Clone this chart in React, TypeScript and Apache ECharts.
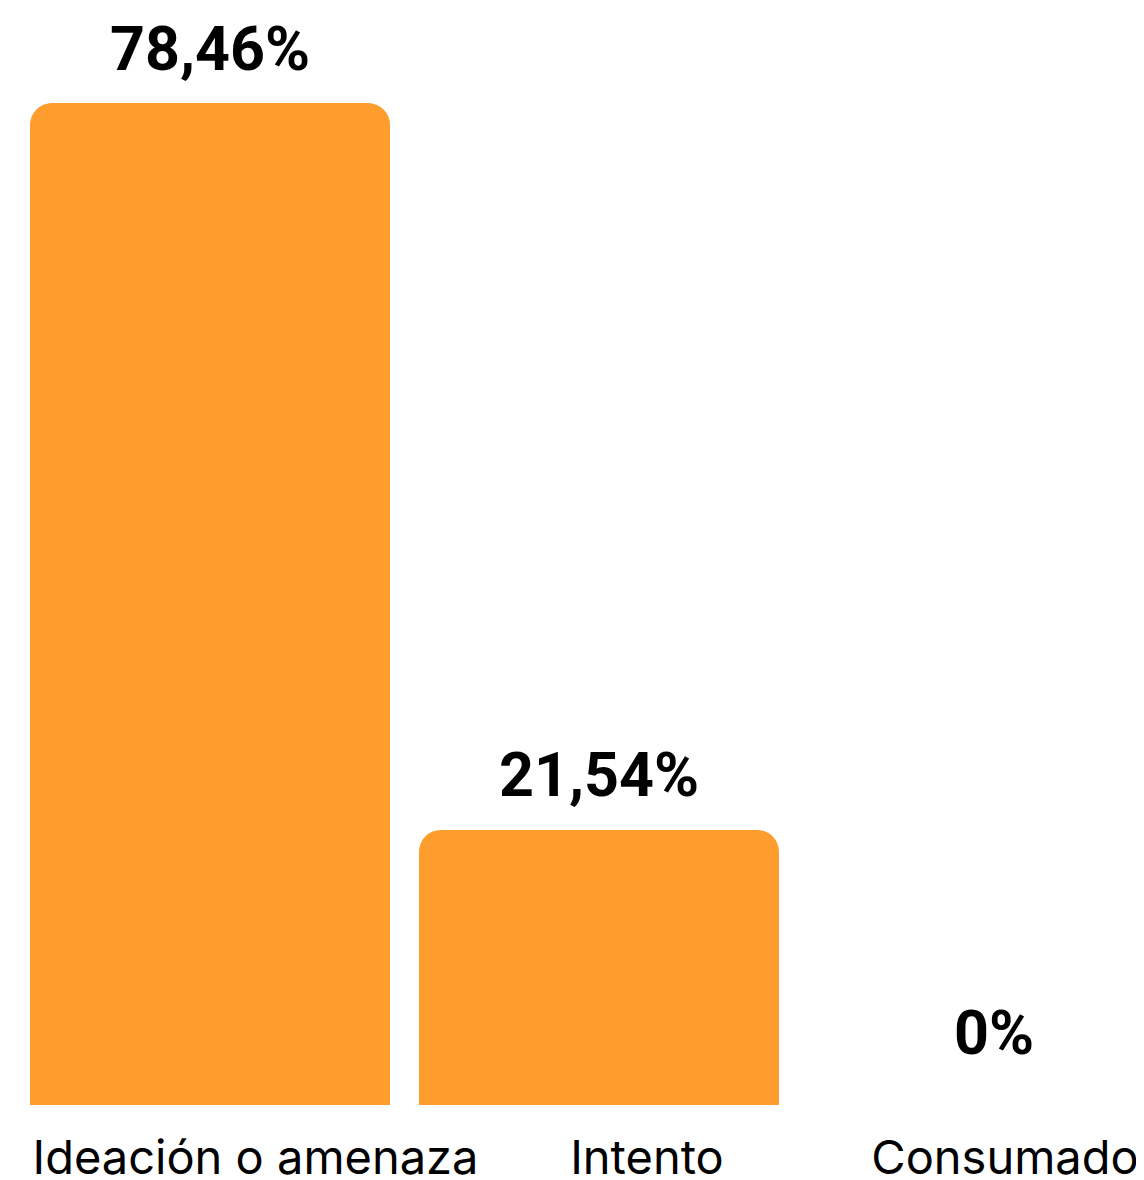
import React, { useEffect, useRef } from "react";
import * as echarts from "echarts";

const categories = ["Ideación o amenaza", "Intento", "Consumado"];
const values = [78.46, 21.54, 0];
const labelPadLeft = [91, 96, 34];

export default function App() {
  const ref = useRef<HTMLDivElement>(null);
  useEffect(() => {
    const chart = echarts.init(ref.current!, null, { renderer: "svg" });
    chart.setOption({
      animation: false,
      grid: {
        left: 7.5,
        right: 0.5,
        top: 95,
        bottom: 75,
        containLabel: false,
        outerBoundsMode: "none",
      },
      xAxis: {
        type: "category",
        data: categories.map((c, i) => ({
          value: c,
          textStyle: { padding: [0, 0, 0, labelPadLeft[i]] },
        })),
        axisLine: { show: false },
        axisTick: { show: false },
        axisLabel: {
          interval: 0,
          margin: 28,
          fontSize: 47,
          fontFamily: "Inter",
          color: "#000",
        },
      },
      yAxis: { type: "value", min: 0, max: 78.46, show: false, splitLine: { show: false } },
      series: [
        {
          type: "bar",
          barWidth: 360,
          data: values.map((v, i) => ({
            value: v,
            label: i === 2 ? { distance: 42, offset: [6, 0] } : undefined,
          })),
          itemStyle: { color: "#FF9C2E", borderRadius: [22, 22, 0, 0] },
          label: {
            show: true,
            position: "top",
            distance: 24,
            fontSize: 61,
            fontWeight: "bold",
            fontFamily: "Roboto",
            color: "#000",
            formatter: (p: any) => String(p.value).replace(".", ",") + "%",
          },
        },
      ],
    });
    return () => chart.dispose();
  }, []);
  return (
    <div style={{ width: 1128, height: 1172, overflow: "hidden" }}>
      <div ref={ref} style={{ width: 1175, height: 1172 }} />
    </div>
  );
}
